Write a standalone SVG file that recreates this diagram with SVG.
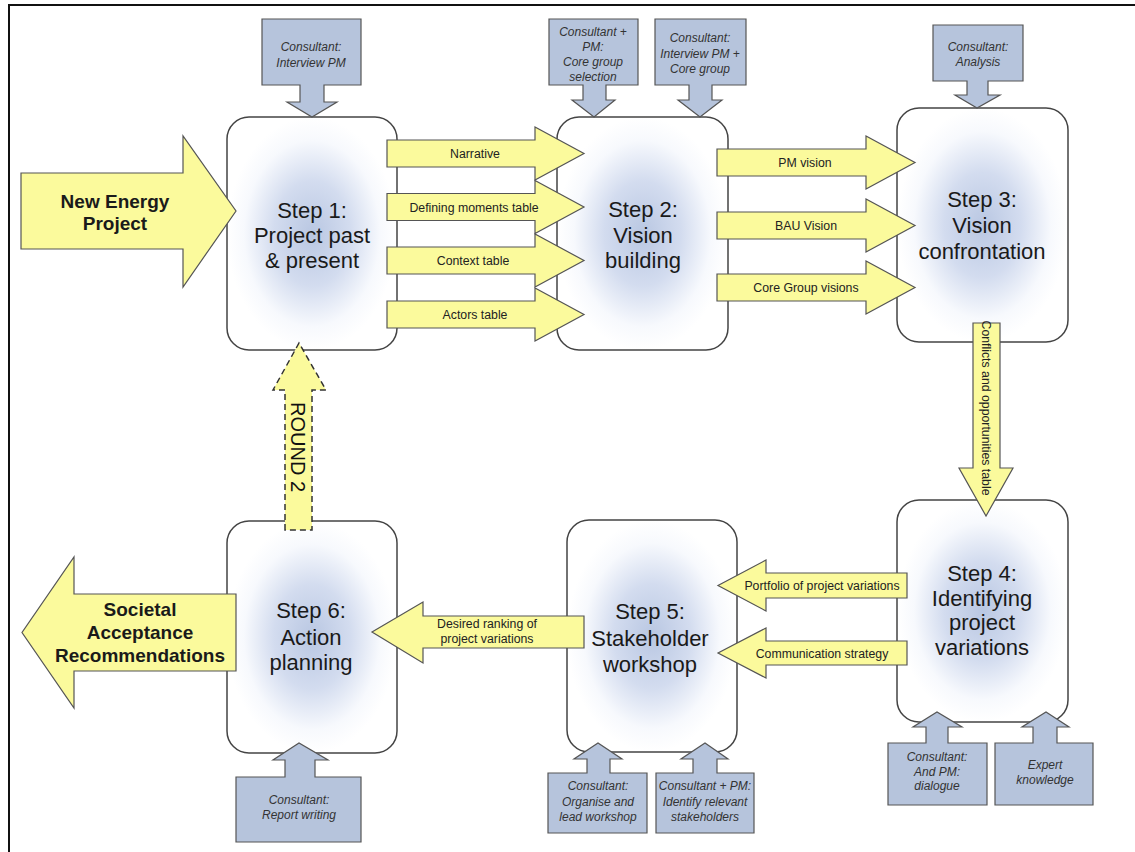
<svg xmlns="http://www.w3.org/2000/svg" width="1135" height="852" viewBox="0 0 1135 852">
<defs>
<radialGradient id="glow" cx="0.5" cy="0.5" r="0.5">
<stop offset="0" stop-color="#b9c7e2"/>
<stop offset="0.45" stop-color="#d3dcef"/>
<stop offset="0.8" stop-color="#f7f9fd"/>
<stop offset="1" stop-color="#ffffff"/>
</radialGradient>
<style>
.box{fill:url(#glow);stroke:#444;stroke-width:1.5}
.step{font-family:"Liberation Sans",Arial,sans-serif;font-size:22px;fill:#1a1a1a;text-anchor:middle}
.ya{fill:#fbfa9c;stroke:#555;stroke-width:1.2}
.yd{fill:#fbfa9c;stroke:#333;stroke-width:1.5;stroke-dasharray:6 4}
.lbl{font-family:"Liberation Sans",Arial,sans-serif;font-size:12.3px;fill:#222;text-anchor:middle}
.big{font-family:"Liberation Sans",Arial,sans-serif;font-size:19px;font-weight:bold;fill:#1a1a1a;text-anchor:middle}
.co{fill:#b6c4dc;stroke:#555;stroke-width:1.2}
.ct{font-family:"Liberation Sans",Arial,sans-serif;font-size:12px;font-style:italic;fill:#333;text-anchor:middle}
</style>
</defs>
<rect width="1135" height="852" fill="#fff"/>
<g id="frame" stroke="#111" stroke-width="2" fill="none">
<line x1="8" y1="5" x2="1135" y2="5"/>
<line x1="9" y1="5" x2="9" y2="852"/>
</g>

<g id="step1"><rect class="box" x="227" y="117" width="170" height="233" rx="22"/>
<text class="step" x="312" y="218">Step 1:</text><text class="step" x="312" y="243">Project past</text><text class="step" x="312" y="268">&amp; present</text></g>
<g id="step2"><rect class="box" x="557" y="117" width="171" height="233" rx="22"/>
<text class="step" x="643" y="217">Step 2:</text><text class="step" x="643" y="243">Vision</text><text class="step" x="643" y="268">building</text></g>
<g id="step3"><rect class="box" x="897" y="108" width="171" height="234" rx="22"/>
<text class="step" x="982" y="207">Step 3:</text><text class="step" x="982" y="233">Vision</text><text class="step" x="982" y="259">confrontation</text></g>
<g id="step4"><rect class="box" x="897" y="500" width="171" height="222" rx="22"/>
<text class="step" x="982" y="581">Step 4:</text><text class="step" x="982" y="606">Identifying</text><text class="step" x="982" y="630">project</text><text class="step" x="982" y="655">variations</text></g>
<g id="step5"><rect class="box" x="567" y="520" width="170" height="232" rx="22"/>
<text class="step" x="650" y="619">Step 5:</text><text class="step" x="650" y="646">Stakeholder</text><text class="step" x="650" y="672">workshop</text></g>
<g id="step6"><rect class="box" x="227" y="521" width="170" height="232" rx="22"/>
<text class="step" x="311" y="618">Step 6:</text><text class="step" x="311" y="645">Action</text><text class="step" x="311" y="670">planning</text></g>

<g id="input-new-energy">
<polygon class="ya" points="21,173 183,173 183,136 236,211 183,287 183,249 21,249"/>
<text class="big" x="115" y="208">New Energy</text><text class="big" x="115" y="230">Project</text>
</g>
<g id="output-societal">
<polygon class="ya" points="236,594 74,594 74,557 22,632.5 74,708 74,671 236,671"/>
<text class="big" x="140" y="616">Societal</text><text class="big" x="140" y="639">Acceptance</text><text class="big" x="140" y="662">Recommendations</text>
</g>

<g id="connectors">
<polygon class="ya" points="387,140 535,140 535,127 584,153.5 535,180 535,167 387,167"/>
<text class="lbl" x="475" y="158">Narrative</text>
<polygon class="ya" points="387,193.5 535,193.5 535,180.5 584,207 535,233.5 535,220.5 387,220.5"/>
<text class="lbl" x="474" y="211.5">Defining moments table</text>
<polygon class="ya" points="387,247 535,247 535,234 584,260.5 535,287 535,274 387,274"/>
<text class="lbl" x="473" y="265">Context table</text>
<polygon class="ya" points="387,301 535,301 535,288 584,314.5 535,341 535,328 387,328"/>
<text class="lbl" x="475" y="319">Actors table</text>

<polygon class="ya" points="717,149 866,149 866,136 915,162.5 866,189 866,176 717,176"/>
<text class="lbl" x="805" y="167">PM vision</text>
<polygon class="ya" points="717,212 866,212 866,199 915,225.5 866,252 866,239 717,239"/>
<text class="lbl" x="806" y="230">BAU Vision</text>
<polygon class="ya" points="717,274 866,274 866,261 915,287.5 866,314 866,301 717,301"/>
<text class="lbl" x="806" y="292">Core Group visions</text>

<polygon class="ya" points="973,323 1000,323 1000,468 1013,468 986,516 959,468 973,468"/>
<text class="lbl" transform="translate(982,408) rotate(90)">Conflicts and opportunities table</text>

<polygon class="ya" points="907,573 766,573 766,560 718,585.5 766,611 766,598 907,598"/>
<text class="lbl" x="822" y="590">Portfolio of project variations</text>
<polygon class="ya" points="907,641 766,641 766,628 718,653 766,678 766,665 907,665"/>
<text class="lbl" x="822" y="657.5">Communication strategy</text>

<polygon class="ya" points="584,616 423,616 423,602 372,632 423,663 423,648 584,648"/>
<text class="lbl" x="487" y="628">Desired ranking of</text><text class="lbl" x="487" y="643">project variations</text>

<polygon class="yd" points="285,530 285,390 273,390 299,343 326,390 312,390 312,530"/>
<text transform="translate(291,447) rotate(90)" font-family="Liberation Sans,Arial,sans-serif" font-size="20" fill="#111" text-anchor="middle">ROUND 2</text>
</g>

<g id="c1"><polygon class="co" points="262,19 361,19 361,85 324,85 324,102 337,102 312,117 287,102 300,102 300,85 262,85"/>
<text class="ct" x="311" y="51">Consultant:</text><text class="ct" x="311" y="67">Interview PM</text></g>
<g id="c2"><polygon class="co" points="549,19 638,19 638,85 606,85 606,100 615,100 594,117 572,100 583,100 583,85 549,85"/>
<text class="ct" x="593" y="36">Consultant +</text><text class="ct" x="593" y="51">PM:</text><text class="ct" x="593" y="66">Core group</text><text class="ct" x="593" y="81">selection</text></g>
<g id="c3"><polygon class="co" points="655,19 746,19 746,85 712,85 712,100 722,100 700,117 678,100 689,100 689,85 655,85"/>
<text class="ct" x="700" y="42">Consultant:</text><text class="ct" x="700" y="58">Interview PM +</text><text class="ct" x="700" y="73">Core group</text></g>
<g id="c4"><polygon class="co" points="933,25 1023,25 1023,81 988,81 988,95 1000,95 977,108 955,95 967,95 967,81 933,81"/>
<text class="ct" x="978" y="51">Consultant:</text><text class="ct" x="978" y="66">Analysis</text></g>
<g id="c6"><polygon class="co" points="236,842 361,842 361,777 315,777 315,760 328,760 299,743 273,760 285,760 285,777 236,777"/>
<text class="ct" x="299" y="804">Consultant:</text><text class="ct" x="299" y="819">Report writing</text></g>
<g id="c5a"><polygon class="co" points="548,833 647,833 647,773 610,773 610,759 622,759 598,743 574,759 587,759 587,773 548,773"/>
<text class="ct" x="598" y="790">Consultant:</text><text class="ct" x="598" y="806">Organise and</text><text class="ct" x="598" y="821">lead workshop</text></g>
<g id="c5b"><polygon class="co" points="656,833 754,833 754,773 717,773 717,759 728,759 705,743 681,759 693,759 693,773 656,773"/>
<text class="ct" x="705" y="790">Consultant + PM:</text><text class="ct" x="705" y="806">Identify relevant</text><text class="ct" x="705" y="821">stakeholders</text></g>
<g id="c4a"><polygon class="co" points="888,805 987,805 987,743 948,743 948,727 962,727 937,712 913,727 926,727 926,743 888,743"/>
<text class="ct" x="937" y="761">Consultant:</text><text class="ct" x="937" y="776">And PM:</text><text class="ct" x="937" y="790">dialogue</text></g>
<g id="c4b"><polygon class="co" points="995,805 1093,805 1093,743 1057,743 1057,727 1069,727 1046,712 1022,727 1033,727 1033,743 995,743"/>
<text class="ct" x="1045" y="769">Expert</text><text class="ct" x="1045" y="784">knowledge</text></g>
</svg>
